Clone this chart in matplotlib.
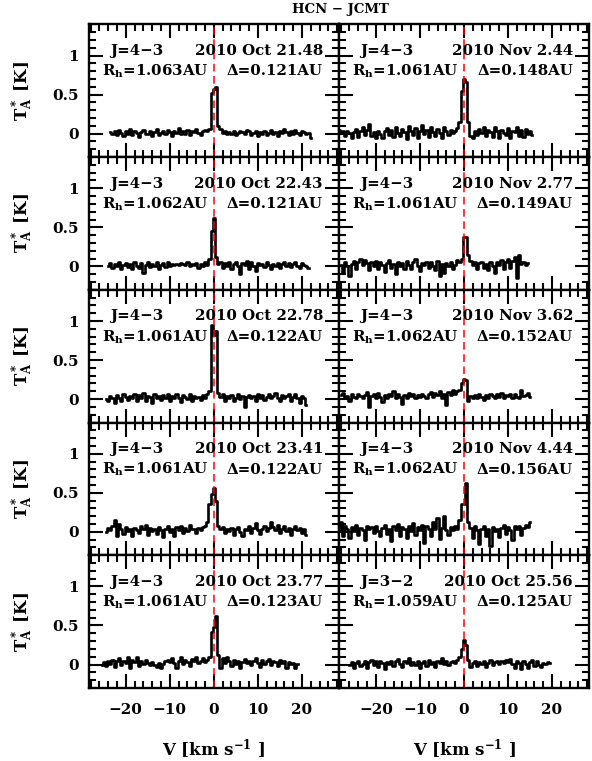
import numpy as np
import matplotlib.pyplot as plt
from matplotlib.ticker import MultipleLocator

plt.rcParams['font.family'] = 'DejaVu Serif'
plt.rcParams['font.weight'] = 'bold'
plt.rcParams['axes.labelweight'] = 'bold'
plt.rcParams['mathtext.fontset'] = 'dejavuserif'
plt.rcParams['mathtext.default'] = 'bf'

# channel width (km/s) and first channel velocity of each spectrum
dv = 0.5
v_first = [-23.5, -28.5, -24.0, -28.0, -24.5, -28.0, -24.5, -28.5, -25.5, -26.0]

# T_A* (K) per channel
t_oct2148 = [0.02, -0.01, 0.03, -0.02, 0.05, 0.01, -0.03, 0.04, 0.00, 0.06,
             -0.02, 0.03, 0.01, -0.04, 0.02, 0.05, -0.01, 0.00, 0.04, -0.03,
             0.02, 0.06, -0.02, 0.01, 0.03, -0.01, 0.05, 0.02, -0.03, 0.04,
             0.01, 0.07, -0.01, 0.03, 0.00, 0.05, -0.02, 0.04, 0.02, 0.06,
             0.01, -0.02, 0.03, 0.05, 0.04, 0.06, 0.52, 0.57, 0.60, 0.10,
             0.06, 0.01, 0.04, -0.01, 0.02, 0.00, 0.03, -0.02, 0.01, 0.04,
             0.02, -0.01, 0.05, 0.03, -0.02, 0.01, 0.04, -0.03, 0.02, 0.00,
             0.03, -0.02, 0.01, 0.05, -0.01, 0.02, -0.03, 0.04, 0.01, 0.06,
             0.02, -0.02, 0.03, 0.00, 0.05, 0.01, -0.02, 0.04, 0.02, -0.01,
             0.01, -0.05]
t_nov244 = [0.05, 0.02, 0.04, -0.03, 0.03, 0.01, -0.06, 0.02, 0.06, -0.04,
            0.03, 0.08, -0.02, 0.05, 0.12, -0.03, 0.02, -0.05, 0.04, 0.00,
            -0.06, 0.03, 0.07, -0.02, 0.05, -0.04, 0.09, 0.01, -0.03, 0.06,
            0.02, -0.07, 0.10, 0.03, -0.02, 0.07, -0.05, 0.04, 0.11, 0.00,
            0.05, -0.04, 0.08, 0.02, -0.03, 0.06, 0.01, -0.06, 0.09, 0.03,
            -0.02, 0.05, 0.01, 0.04, 0.07, 0.15, 0.55, 0.70, 0.66, 0.15,
            -0.03, -0.05, 0.04, -0.02, 0.06, 0.01, 0.08, -0.03, 0.05, 0.02,
            -0.04, 0.09, 0.03, -0.06, 0.05, 0.01, -0.02, 0.07, -0.05, 0.04,
            0.02, 0.08, -0.03, 0.05, -0.04, 0.06, 0.00, 0.03, -0.02]
t_oct2243 = [0.01, 0.04, -0.02, 0.03, 0.00, 0.05, -0.03, 0.02, 0.04, -0.01,
             0.03, -0.04, 0.06, 0.01, -0.02, 0.04, -0.08, 0.02, 0.05, -0.01,
             0.03, 0.00, 0.06, -0.03, 0.02, 0.04, -0.01, 0.05, 0.01, 0.03,
             0.02, 0.03, 0.02, 0.04, 0.03, 0.02, 0.05, 0.01, 0.03, 0.02,
             0.04, -0.02, 0.03, 0.01, 0.05, 0.02, 0.10, 0.45, 0.62, 0.12,
             0.03, 0.06, -0.02, 0.04, 0.01, 0.05, -0.03, 0.03, 0.06, 0.00,
             -0.10, 0.04, 0.02, 0.07, -0.03, 0.05, 0.01, -0.06, 0.04, 0.02,
             0.03, -0.01, 0.05, 0.02, -0.04, 0.03, 0.01, 0.04, -0.02, 0.03,
             0.05, 0.00, 0.04, -0.01, 0.03, 0.06, 0.01, -0.02, 0.04, 0.02,
             0.00, -0.02]
t_nov277 = [0.02, -0.08, 0.06, 0.01, -0.12, 0.03, 0.07, -0.04, 0.05, 0.09,
            0.02, 0.08, 0.04, -0.05, 0.06, 0.01, 0.07, -0.03, 0.05, 0.02,
            -0.07, 0.04, 0.08, -0.02, 0.03, -0.10, 0.06, 0.01, 0.04, -0.04,
            0.07, 0.02, -0.03, 0.05, 0.09, 0.01, -0.06, 0.04, 0.02, 0.06,
            -0.02, 0.05, 0.01, -0.05, 0.07, -0.12, 0.03, -0.08, 0.04, 0.00,
            0.06, -0.03, 0.02, 0.08, 0.05, 0.10, 0.37, 0.38, 0.15, 0.07,
            0.02, 0.05, -0.03, 0.04, 0.06, -0.02, 0.03, -0.05, 0.05, 0.01,
            -0.08, 0.06, 0.02, 0.08, -0.04, 0.05, 0.10, -0.02, 0.07, 0.12,
            -0.15, 0.14, 0.03, 0.06, 0.02, 0.04]
t_oct2278 = [0.00, -0.03, 0.04, 0.02, -0.05, 0.05, 0.01, -0.02, 0.06, 0.03,
             -0.01, 0.04, 0.02, 0.07, -0.03, 0.05, 0.01, 0.08, -0.02, 0.04,
             0.03, -0.05, 0.06, 0.01, 0.04, -0.01, 0.05, 0.02, 0.06, -0.03,
             0.04, 0.01, 0.07, 0.02, -0.04, 0.05, 0.03, 0.00, 0.06, -0.02,
             0.04, 0.01, 0.03, -0.01, 0.05, 0.02, 0.06, 0.10, 0.95, 0.82,
             0.87, 0.08, 0.03, 0.06, -0.02, 0.04, 0.01, 0.05, -0.03, 0.02,
             0.06, 0.00, 0.04, -0.10, 0.03, 0.05, 0.01, 0.04, -0.02, 0.06,
             0.02, 0.05, -0.01, 0.03, 0.07, 0.01, 0.04, 0.08, 0.02, -0.03,
             0.05, 0.01, 0.04, 0.06, -0.02, 0.03, 0.07, 0.01, -0.05, 0.04,
             0.02, -0.08]
t_nov362 = [0.05, 0.08, 0.02, 0.04, -0.02, 0.06, 0.03, 0.01, 0.07, 0.04,
            0.02, 0.05, 0.09, -0.10, 0.04, 0.06, 0.01, 0.08, 0.03, -0.04,
            0.05, 0.02, 0.07, 0.04, 0.10, 0.01, 0.06, 0.03, -0.06, 0.05,
            0.02, 0.08, 0.04, 0.06, 0.02, 0.05, 0.03, 0.07, 0.04, 0.01,
            0.06, 0.09, 0.03, 0.08, 0.05, 0.10, 0.02, 0.07, -0.08, 0.09,
            0.05, 0.11, 0.06, 0.10, 0.12, 0.20, 0.26, 0.25, -0.02, 0.04,
            0.01, 0.05, 0.02, 0.06, 0.03, -0.01, 0.05, 0.02, 0.07, 0.04,
            0.01, 0.06, 0.03, 0.08, 0.02, 0.05, 0.04, 0.06, 0.01, 0.07,
            0.03, 0.02, 0.11, 0.04, 0.05, 0.08, 0.03]
t_oct2341 = [0.00, 0.05, 0.02, 0.08, 0.15, -0.05, 0.10, 0.03, -0.03, 0.06,
             0.01, 0.04, -0.06, 0.05, 0.02, -0.02, 0.07, 0.03, 0.09, -0.04,
             0.05, 0.01, 0.04, -0.03, 0.06, 0.02, -0.07, 0.04, 0.08, 0.00,
             0.03, -0.05, 0.06, 0.02, 0.07, -0.02, 0.05, 0.01, 0.09, 0.03,
             0.04, -0.01, 0.05, 0.02, 0.06, 0.08, 0.12, 0.35, 0.48, 0.56,
             0.40, 0.07, 0.03, 0.06, -0.02, 0.04, 0.01, 0.05, -0.04, 0.03,
             0.06, 0.00, -0.06, 0.04, 0.02, 0.07, -0.01, 0.05, 0.11, 0.02,
             -0.03, 0.04, 0.08, 0.01, 0.05, 0.13, 0.06, 0.02, 0.09, -0.02,
             0.04, 0.07, 0.01, 0.05, -0.04, 0.03, 0.08, 0.02, 0.05, -0.01,
             0.03, -0.04]
t_nov444 = [0.02, 0.12, -0.05, 0.08, 0.03, -0.08, 0.06, 0.01, 0.09, -0.04,
            0.05, 0.02, -0.10, 0.07, 0.03, 0.06, -0.02, 0.08, 0.01, -0.06,
            0.05, 0.09, -0.03, 0.04, -0.12, 0.07, 0.02, 0.10, -0.05, 0.06,
            0.03, -0.08, 0.08, 0.01, 0.11, -0.04, 0.06, 0.02, 0.09, -0.14,
            0.07, 0.03, -0.06, 0.12, 0.04, 0.18, -0.09, 0.05, 0.20, 0.02,
            -0.04, 0.06, 0.02, 0.08, 0.04, 0.15, 0.35, 0.36, 0.62, 0.12,
            0.05, -0.08, 0.07, 0.02, -0.15, 0.04, 0.08, -0.06, 0.03, -0.18,
            0.06, 0.01, 0.04, -0.07, 0.05, 0.09, -0.03, 0.06, 0.02, -0.10,
            0.07, 0.03, 0.08, -0.04, 0.05, 0.09, 0.06, 0.12]
t_oct2377 = [0.00, 0.03, -0.02, 0.05, 0.01, 0.06, -0.03, 0.04, 0.08, -0.01,
             0.05, 0.02, 0.09, -0.04, 0.06, 0.03, 0.10, -0.02, 0.04, 0.01,
             0.06, 0.02, -0.01, 0.03, 0.00, -0.03, 0.02, -0.05, 0.01, 0.04,
             0.06, 0.03, 0.08, 0.02, -0.04, 0.05, 0.09, 0.01, 0.06, 0.03,
             -0.02, 0.07, 0.04, 0.10, 0.02, 0.05, 0.08, 0.03, 0.06, 0.10,
             0.42, 0.48, 0.62, 0.12, -0.05, 0.08, 0.02, 0.10, 0.04, -0.02,
             0.06, 0.01, 0.05, -0.04, 0.03, 0.07, 0.02, 0.05, -0.01, 0.04,
             0.08, 0.02, -0.03, 0.06, 0.01, 0.04, 0.07, 0.00, 0.05, 0.03,
             -0.02, 0.06, 0.02, 0.04, -0.04, 0.03, 0.01, 0.02, -0.05, 0.01]
t_oct2556 = [0.00, 0.03, -0.04, 0.02, 0.05, -0.02, 0.01, 0.04, -0.05, 0.03,
             0.06, 0.00, 0.04, -0.03, 0.05, 0.02, -0.06, 0.03, 0.01, 0.05,
             -0.02, 0.04, 0.07, 0.01, -0.03, 0.05, 0.02, 0.08, -0.01, 0.03,
             0.00, 0.05, -0.04, 0.02, 0.04, -0.02, 0.06, 0.01, 0.03, -0.03,
             0.05, 0.02, 0.08, 0.01, 0.04, -0.01, 0.03, 0.05, 0.02, 0.06,
             0.10, 0.20, 0.31, 0.25, 0.06, -0.03, 0.02, 0.05, -0.02, 0.03,
             0.01, 0.04, -0.03, 0.02, 0.06, 0.00, 0.03, 0.05, 0.01, 0.04,
             0.02, 0.06, 0.03, 0.07, 0.01, -0.04, 0.05, 0.02, -0.06, 0.04,
             0.01, -0.05, 0.03, 0.06, -0.02, 0.04, 0.00, -0.03, 0.02, 0.01,
             0.03, 0.02]

spectra = [t_oct2148, t_nov244, t_oct2243, t_nov277, t_oct2278,
           t_nov362, t_oct2341, t_nov444, t_oct2377, t_oct2556]
transitions = ['J=4−3'] * 9 + ['J=3−2']
dates = ['2010 Oct 21.48', '2010 Nov 2.44', '2010 Oct 22.43', '2010 Nov 2.77',
         '2010 Oct 22.78', '2010 Nov 3.62', '2010 Oct 23.41', '2010 Nov 4.44',
         '2010 Oct 23.77', '2010 Oct 25.56']
r_h = ['1.063', '1.061', '1.062', '1.061', '1.061',
       '1.062', '1.061', '1.062', '1.061', '1.059']
delta = ['0.121', '0.148', '0.121', '0.149', '0.122',
         '0.152', '0.122', '0.156', '0.123', '0.125']

fig, axes = plt.subplots(5, 2, figsize=(5.92, 7.61), dpi=100, sharex=True, sharey=True)
fig.subplots_adjust(left=0.150, right=0.995, top=0.968, bottom=0.096,
                    wspace=0, hspace=0)

for i, ax in enumerate(axes.flat):
    t = np.array(spectra[i])
    v = v_first[i] + dv * np.arange(len(t))
    ax.plot(v, t, color='black', lw=1.9, drawstyle='steps-mid')
    ax.axvline(0, color='red', lw=1.1, ls=(0, (5, 3)))
    ax.set_xlim(-28.4, 28.4)
    ax.set_ylim(-0.3, 1.4)
    ax.xaxis.set_major_locator(MultipleLocator(10))
    ax.xaxis.set_minor_locator(MultipleLocator(2))
    ax.yaxis.set_major_locator(MultipleLocator(0.5))
    ax.yaxis.set_minor_locator(MultipleLocator(0.1))
    ax.yaxis.set_major_formatter(plt.FuncFormatter(lambda y, p: '%g' % y))
    ax.tick_params(which='both', direction='in', top=True, right=True,
                   width=1.5, labelsize=11)
    ax.tick_params(which='major', length=10, pad=7)
    ax.tick_params(which='minor', length=5)
    ax.tick_params(axis='x', which='major', pad=11)
    for lab in ax.get_xticklabels() + ax.get_yticklabels():
        lab.set_fontweight('bold')
    for s in ax.spines.values():
        s.set_linewidth(1.7)

    ax.text(0.084, 0.80, transitions[i], transform=ax.transAxes, fontsize=10.8,
            ha='left', va='center')
    ax.text(0.936, 0.80, dates[i], transform=ax.transAxes, fontsize=10.8,
            ha='right', va='center')
    ax.text(0.052, 0.645, 'R$_h$=' + r_h[i] + 'AU', transform=ax.transAxes,
            fontsize=10.8, ha='left', va='center')
    ax.text(0.936, 0.645, 'Δ=' + delta[i] + 'AU', transform=ax.transAxes,
            fontsize=10.8, ha='right', va='center')

for ax in axes[:, 0]:
    ax.set_ylabel('T$_A^*$ [K]', fontsize=12, labelpad=12)
for ax in axes[-1, :]:
    ax.set_xlabel('V [km s$^{-1}$ ]', fontsize=12, labelpad=14)

fig.text(0.575, 0.988, 'HCN − JCMT', ha='center', va='center', fontsize=9.5,
         fontweight='bold')

plt.savefig('out.png', dpi=100)
